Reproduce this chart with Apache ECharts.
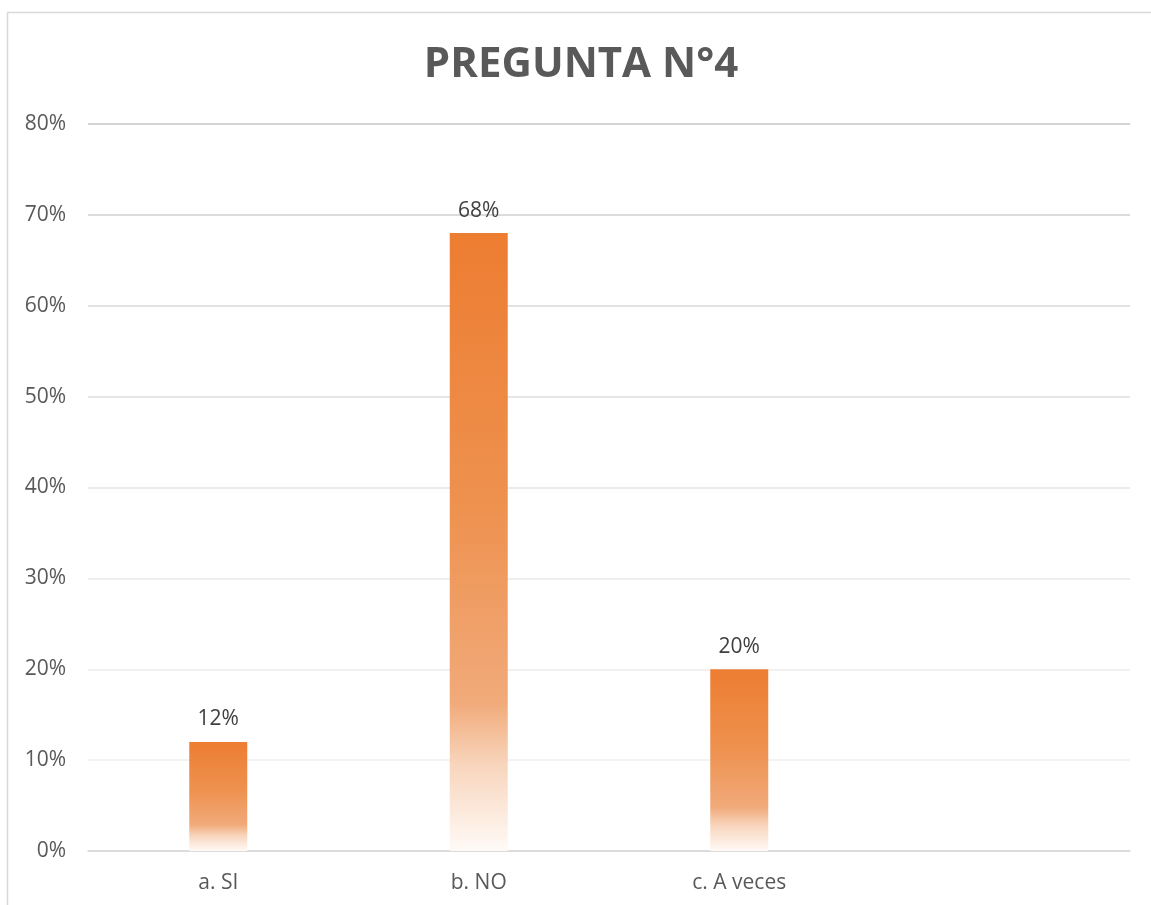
<!DOCTYPE html>
<html>
<head>
<meta charset="utf-8">
<script src="https://cdn.jsdelivr.net/npm/echarts@6/dist/echarts.min.js"></script>
<style>
html,body{margin:0;padding:0;background:#fff;}
#chart{width:1151px;height:905px;}
</style>
</head>
<body>
<div id="chart"></div>
<script>
const titleText = 'PREGUNTA N°4';
const categories = ['a. SI', 'b. NO', 'c. A veces', ''];
const values = [12, 68, 20, null];
const yTicks = [0, 10, 20, 30, 40, 50, 60, 70, 80];

const chart = echarts.init(document.getElementById('chart'));
const barGradient = new echarts.graphic.LinearGradient(0, 0, 0, 1, [
  { offset: 0, color: '#ED7D31' },
  { offset: 0.45, color: '#EE9250' },
  { offset: 0.76, color: '#F1AA7A' },
  { offset: 0.86, color: '#F8D5BC' },
  { offset: 1, color: '#FFFAF7' }
]);
chart.setOption({
  animation: false,
  backgroundColor: '#fff',
  graphic: [{
    type: 'rect',
    shape: { x: 7.5, y: 12.5, width: 1200, height: 1000 },
    style: { fill: 'none', stroke: '#d9d9d9', lineWidth: 1.5 },
    silent: true
  }],
  title: {
    text: titleText,
    left: 576,
    top: 39,
    textAlign: 'center',
    textStyle: { fontFamily: 'Open Sans', fontWeight: 'bold', fontSize: 42, color: '#595959' }
  },
  grid: { left: 88, right: 21, top: 124, bottom: 54 },
  xAxis: {
    type: 'category',
    data: categories,
    axisLine: { lineStyle: { color: '#d9d9d9', width: 1.5 } },
    axisTick: { show: false },
    axisLabel: { color: '#595959', fontFamily: 'Open Sans', fontSize: 21, margin: 22 }
  },
  yAxis: {
    type: 'value',
    min: yTicks[0],
    max: yTicks[yTicks.length - 1],
    interval: 10,
    axisLine: { show: false },
    axisTick: { show: false },
    axisLabel: { formatter: '{value}%', color: '#595959', fontFamily: 'Open Sans', fontSize: 21, margin: 22 },
    splitLine: { lineStyle: { color: ['#d9d9d9', '#efefef', '#ededed', '#e8e8e8', '#e4e4e4', '#dedede', '#d8d8d8', '#cfcfcf', '#c6c6c6'], width: 1.5 } }
  },
  series: [{
    type: 'bar',
    data: values,
    barWidth: 58,
    itemStyle: { color: barGradient },
    label: {
      show: true,
      position: 'top',
      distance: 12,
      formatter: '{c}%',
      color: '#404040',
      fontFamily: 'Open Sans',
      fontSize: 21
    }
  }]
});
</script>
</body>
</html>
